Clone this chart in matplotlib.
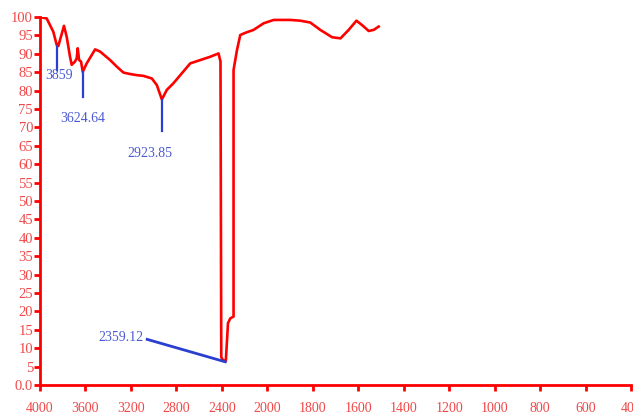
import numpy as np
import matplotlib
matplotlib.use("Agg")
import matplotlib.pyplot as plt

# FTIR spectrum, wavenumber (cm-1) vs transmittance (%)
wavenumber = [4000, 3941, 3883, 3853, 3839, 3789, 3765, 3736, 3721, 3692, 3677,
              3668, 3656, 3639, 3624, 3589, 3515, 3471, 3383, 3324, 3266, 3207,
              3148, 3090, 3016, 2972, 2928, 2884, 2826, 2752, 2678, 2590, 2502,
              2429, 2412, 2405, 2392, 2365, 2346, 2326, 2297, 2297, 2267, 2238,
              2194, 2121, 2032, 1972, 1899, 1855, 1811, 1767, 1715, 1678, 1642,
              1608, 1583, 1554, 1532, 1510]
transmittance = [100, 99.6, 96.0, 92.4, 92.1, 97.6, 94.6, 89.2, 87.0, 87.9, 88.8,
                 91.5, 88.3, 87.9, 85.1, 87.4, 91.2, 90.6, 88.3, 86.5, 84.9, 84.5,
                 84.2, 84.0, 83.3, 81.5, 77.6, 80.2, 82.0, 84.7, 87.4, 88.3, 89.2,
                 90.1, 87.9, 7.6, 6.8, 6.5, 16.8, 18.1, 18.6, 85.6, 91.0, 95.1,
                 95.7, 96.5, 98.3, 99.2, 99.2, 99.0, 98.5, 96.5, 94.5, 94.2, 96.5,
                 99.0, 97.8, 96.2, 96.5, 97.4]

x_ticks = [4000, 3600, 3200, 2800, 2400, 2000, 1800, 1600, 1400, 1200, 1000, 800, 600, 400]
y_ticks = list(range(0, 101, 5))
y_labels = ["0.0"] + [str(v) for v in y_ticks[1:]]

# peak labels: (label, line x, line y0, line y1, text x, text y)
peaks = [
    ("3859", 3853, 92.2, 85.6, 3833, 84.0),
    ("3624.64", 3624, 85.0, 78.3, 3621, 72.5),
    ("2923.85", 2928, 77.4, 69.0, 3031, 62.8),
]
peak_2359 = ("2359.12", 3057, 12.4, 2370, 6.3, 3093, 13.0)


# wavenumber axis changes scale at 2000 cm-1
def fwd(x):
    x = np.asarray(x, dtype=float)
    return np.where(x >= 2000, (4000 - x) / 400, 5 + (2000 - x) / 200)


def inv(u):
    u = np.asarray(u, dtype=float)
    return np.where(u <= 5, 4000 - 400 * u, 2000 - 200 * (u - 5))


plt.rcParams["font.family"] = ["Liberation Serif", "DejaVu Serif"]

fig = plt.figure(figsize=(6.33, 4.19), dpi=100)
ax = fig.add_axes([40 / 633, 34 / 419, 591 / 633, 368 / 419])
ax.set_xscale("function", functions=(fwd, inv))

red = "#ff0000"
lab_red = "#f04848"
blue = "#2a3fd0"
lab_blue = "#4a5ad0"

ax.plot(wavenumber, transmittance, color=red, lw=1.9, solid_joinstyle="round")

for lab, lx, ly0, ly1, tx, ty in peaks:
    ax.plot([lx, lx], [ly0, ly1], color=blue, lw=1.6)
    ax.text(tx, ty, lab, color=lab_blue, fontsize=10, ha="center", va="center")

lab, lx0, ly0, lx1, ly1, tx, ty = peak_2359
ax.plot([lx0, lx1], [ly0, ly1], color=blue, lw=2.0)
ax.text(tx, ty, lab, color=lab_blue, fontsize=10, ha="right", va="center")

ax.set_xlim(400, 4000)
ax.set_ylim(0, 100)
ax.set_xticks(x_ticks)
ax.set_xticklabels([str(v) for v in x_ticks])
ax.set_yticks(y_ticks)
ax.set_yticklabels(y_labels)
ax.minorticks_off()

for s in ["top", "right"]:
    ax.spines[s].set_visible(False)
for s in ["left", "bottom"]:
    ax.spines[s].set_color(red)
    ax.spines[s].set_linewidth(2.0)

ax.tick_params(axis="x", direction="out", length=4, width=2, color=red,
               labelcolor=lab_red, labelsize=10, pad=8)
ax.tick_params(axis="y", direction="out", length=4, width=2, color=red,
               labelcolor=lab_red, labelsize=10.5, pad=1)

fig.savefig("out.png", dpi=100)
